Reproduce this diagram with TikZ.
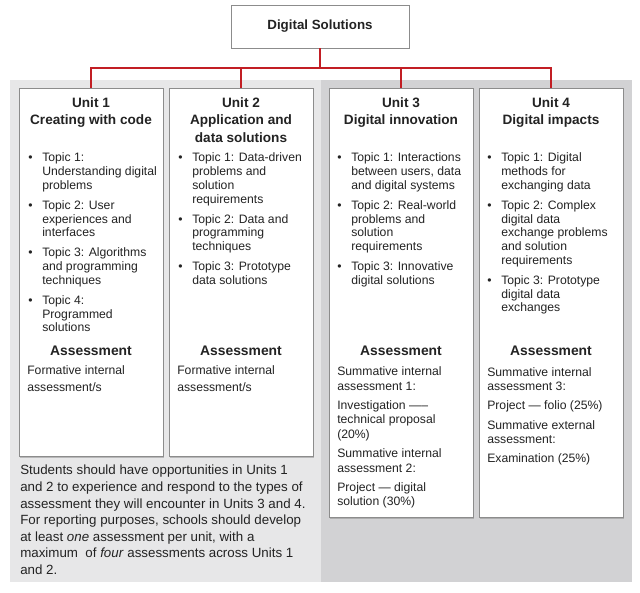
\documentclass[tikz,border=0pt]{standalone}
\usepackage{fontspec}
\setmainfont{Liberation Sans}
\usepackage{tikz}
\usetikzlibrary{positioning,calc,shadows}

\definecolor{linkred}{RGB}{194,30,36}
\definecolor{paneA}{RGB}{231,231,232}
\definecolor{paneB}{RGB}{210,210,212}
\definecolor{boxline}{RGB}{140,140,140}
\definecolor{inktext}{RGB}{35,35,35}

\begin{document}
\begin{tikzpicture}[x=0.75pt, y=-0.75pt, text=inktext,
    unit/.style={draw=boxline, line width=0.6pt, fill=white, anchor=north, minimum width=108pt, inner sep=0pt,
      drop shadow={shadow xshift=1pt, shadow yshift=-1pt, opacity=0.45}},
    head/.style={anchor=north, align=center, inner sep=0pt, font=\fontsize{10.2}{13.3}\selectfont\bfseries},
    topics/.style={anchor=north west, inner sep=0pt, font=\fontsize{9.15}{10.3}\selectfont},
    asshead/.style={anchor=north, inner sep=0pt, font=\fontsize{10.4}{12}\selectfont\bfseries},
    asstext/.style={anchor=north west, align=left, inner sep=0pt, font=\fontsize{9.15}{10.9}\selectfont},
    link/.style={draw=linkred, line width=1.1pt}
  ]
    \useasboundingbox (0,0) rectangle (640,593);
    % the two grey panes
    \fill[paneA] (10,80) rectangle (321,582);
    \fill[paneB] (321,80) rectangle (632,582);

    \node[draw=boxline, line width=0.6pt, fill=white, minimum width=133.5pt, minimum height=32.25pt,
      drop shadow={shadow xshift=1pt, shadow yshift=-1pt, opacity=0.45},
      font=\fontsize{10}{12}\selectfont\bfseries] (sol) at (320,26.5) {Digital Solutions};

    \node[unit, minimum height=276pt] (u1) at (91,88) {};
    \node[unit, minimum height=276pt] (u2) at (241,88) {};
    \node[unit, minimum height=321.75pt] (u3) at (401,88) {};
    \node[unit, minimum height=321.75pt] (u4) at (551,88) {};

    \coordinate (bus) at (320,68);
    \draw[link] (sol.south) -- (bus);
    \draw[link] (bus) -| (u1.north);
    \draw[link] (bus) -| (u2.north);
    \draw[link] (bus) -| (u3.north);
    \draw[link] (bus) -| (u4.north);

    % headings
    \node[head] (h1) at (91,97) {Unit 1\\Creating with code};
    \node[head] (h2) at (241,97) {Unit 2\\Application and\\data solutions};
    \node[head] (h3) at (401,97) {Unit 3\\Digital innovation};
    \node[head] (h4) at (551,97) {Unit 4\\Digital impacts};

    % topics
    \node[topics] (t1) at (28,152) {\begin{tabular}{@{}p{10.5pt}@{}l@{}}
      \textbullet & Topic 1:\\ & Understanding digital\\ & problems\\[4.7pt]
      \textbullet & Topic 2: User\\ & experiences and\\ & interfaces\\[4.7pt]
      \textbullet & Topic 3: Algorithms\\ & and programming\\ & techniques\\[4.7pt]
      \textbullet & Topic 4:\\ & Programmed\\ & solutions
    \end{tabular}};
    \node[topics] (t2) at (178,152) {\begin{tabular}{@{}p{10.5pt}@{}l@{}}
      \textbullet & Topic 1: Data-driven\\ & problems and\\ & solution\\ & requirements\\[4.7pt]
      \textbullet & Topic 2: Data and\\ & programming\\ & techniques\\[4.7pt]
      \textbullet & Topic 3: Prototype\\ & data solutions
    \end{tabular}};
    \node[topics] (t3) at (337,152) {\begin{tabular}{@{}p{10.5pt}@{}l@{}}
      \textbullet & Topic 1: Interactions\\ & between users, data\\ & and digital systems\\[4.7pt]
      \textbullet & Topic 2: Real-world\\ & problems and\\ & solution\\ & requirements\\[4.7pt]
      \textbullet & Topic 3: Innovative\\ & digital solutions
    \end{tabular}};
    \node[topics] (t4) at (487,152) {\begin{tabular}{@{}p{10.5pt}@{}l@{}}
      \textbullet & Topic 1: Digital\\ & methods for\\ & exchanging data\\[4.7pt]
      \textbullet & Topic 2: Complex\\ & digital data\\ & exchange problems\\ & and solution\\ & requirements\\[4.7pt]
      \textbullet & Topic 3: Prototype\\ & digital data\\ & exchanges
    \end{tabular}};

    % assessment
    \node[asshead] (a1) at (91,346) {Assessment};
    \node[asshead] (a2) at (241,346) {Assessment};
    \node[asshead] (a3) at (401,346) {Assessment};
    \node[asshead] (a4) at (551,346) {Assessment};

    \node[asstext] (s1) at (27,365.6) {Formative internal\\[1.8pt]assessment/s};
    \node[asstext] (s2) at (177,365.6) {Formative internal\\[1.8pt]assessment/s};
    \node[asstext] (s3) at (337,366.5) {Summative internal\\assessment 1:\\[3.5pt]Investigation —–\\technical proposal\\(20\%)\\[3.5pt]Summative internal\\assessment 2:\\[3.5pt]Project — digital\\solution (30\%)};
    \node[asstext] (s4) at (487,367) {Summative internal\\assessment 3:\\[3.5pt]Project — folio (25\%)\\[3.5pt]Summative external\\assessment:\\[3.5pt]Examination (25\%)};

    % note under units 1 and 2
    \node[anchor=north west, align=left, inner sep=0pt, font=\fontsize{10}{12.4}\selectfont] (note) at (20,465) {Students should have opportunities in Units 1\\
      and 2 to experience and respond to the types of\\
      assessment they will encounter in Units 3 and 4.\\
      For reporting purposes, schools should develop\\
      at least \textit{one} assessment per unit, with a\\
      maximum\ \ of \textit{four} assessments across Units 1\\
      and 2.};
  \end{tikzpicture}
\end{document}
